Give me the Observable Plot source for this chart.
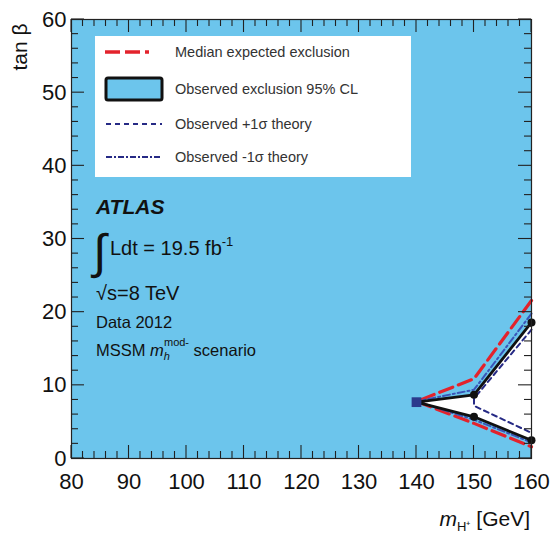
<!DOCTYPE html>
<html><head><meta charset="utf-8">
<script src="https://cdn.jsdelivr.net/npm/d3@7"></script>
<script src="https://cdn.jsdelivr.net/npm/@observablehq/plot@0.6"></script>
<style>
body{margin:0;background:#fff;}
#chart{width:555px;height:539px;}
svg{font-family:"Liberation Sans",Arial,sans-serif;}
</style>
</head><body><div id="chart"></div>
<script>
// ---- data ----
const mass = [140, 150, 160];
const obsUpper = [7.7, 8.7, 18.6];
const obsLower = [7.7, 5.7, 2.5];
const expUpper = [7.8, 10.9, 21.6];
const expLower = [7.8, 4.8, 1.6];
const minusUpper = [7.8, 9.4, 19.8];
const minusLower = [7.8, 5.3, 2.2];
const plusMass = [160, 150, 150, 160];
const plusVals = [17.6, 8.2, 7.2, 3.5];
const xMajor = [80, 90, 100, 110, 120, 130, 140, 150, 160];
const yMajor = [0, 10, 20, 30, 40, 50, 60];
const xMinor = d3.range(80, 161, 2);
const yMinor = d3.range(0, 61, 2);
const legendLabels = ["Median expected exclusion", "Observed exclusion 95% CL", "Observed +1\u03c3 theory", "Observed -1\u03c3 theory"];

const BLUE = "#6cc5ec";
const RED = "#e3232c";
const NAVY = "#262a85";

const contour = (up, lo) => [
  ...mass.map((m, i) => ({m, v: up[i]})).reverse(),
  ...mass.slice(1).map((m, i) => ({m, v: lo[i + 1]}))
];
const wedge = mass.map((m, i) => ({m, lo: obsLower[i], hi: obsUpper[i]}));
const obsLine = contour(obsUpper, obsLower);
const expLine = contour(expUpper, expLower);
const minusLine = contour(minusUpper, minusLower);
const plusLine = plusMass.map((m, i) => ({m, v: plusVals[i]}));
const obsDots = obsLine.filter(d => d.m !== 140);
const apex = obsLine.filter(d => d.m === 140);

const svg = Plot.plot({
  width: 555, height: 539,
  marginLeft: 71, marginRight: 24, marginTop: 19, marginBottom: 81,
  x: {domain: [80, 160]},
  y: {domain: [0, 60]},
  style: {fontFamily: '"Liberation Sans", Arial, sans-serif', color: "#111", background: "white"},
  marks: [
    Plot.frame({fill: BLUE, stroke: null}),
    Plot.areaY(wedge, {x: "m", y1: "lo", y2: "hi", fill: "white"}),
    Plot.line(expLine, {x: "m", y: "v", stroke: RED, strokeWidth: 3.2, strokeDasharray: "14,6"}),
    Plot.line(plusLine, {x: "m", y: "v", stroke: NAVY, strokeWidth: 2, strokeDasharray: "5,4"}),
    Plot.line(minusLine, {x: "m", y: "v", stroke: "#3a55b8", strokeWidth: 2, strokeDasharray: "7,3,2,3"}),
    Plot.line(obsLine, {x: "m", y: "v", stroke: "#111", strokeWidth: 2.8}),
    Plot.dot(obsDots, {x: "m", y: "v", r: 4, fill: "#111"}),
    Plot.dot(apex, {x: "m", y: "v", symbol: "square", r: 5.5, fill: "#2b3a8c"}),
    Plot.axisX({ticks: xMajor, tickSize: 0, tickPadding: 15, fontSize: 22, tickFormat: d => d, label: null}),
    Plot.axisY({ticks: yMajor, tickSize: 0, tickPadding: 5, fontSize: 22, tickFormat: d => d, label: null}),
    Plot.frame({stroke: "#222", strokeWidth: 1.2})
  ]
});
document.getElementById("chart").appendChild(svg);

const s = d3.select(svg);
const FONT = '"Liberation Sans", Arial, sans-serif';
const xs = svg.scale("x"), ys = svg.scale("y");
const X0 = xs.apply(80), X1 = xs.apply(160), Y0 = ys.apply(0), Y1 = ys.apply(60);

// inward tick marks on all four sides, placed through Plot's scales
const tk = s.append("g").attr("stroke", "#222").attr("stroke-width", 1.1);
xMinor.forEach(v => {
  const len = xMajor.includes(v) ? 13 : 7;
  const px = xs.apply(v);
  tk.append("line").attr("x1", px).attr("x2", px).attr("y1", Y0).attr("y2", Y0 - len);
  tk.append("line").attr("x1", px).attr("x2", px).attr("y1", Y1).attr("y2", Y1 + len);
});
yMinor.forEach(v => {
  const len = yMajor.includes(v) ? 13 : 7;
  const py = ys.apply(v);
  tk.append("line").attr("y1", py).attr("y2", py).attr("x1", X0).attr("x2", X0 + len);
  tk.append("line").attr("y1", py).attr("y2", py).attr("x1", X1).attr("x2", X1 - len);
});

// axis titles
s.append("text").attr("transform", "translate(27,47) rotate(-90)")
  .attr("text-anchor", "middle").attr("font-size", 21).attr("fill", "#111").attr("font-family", FONT)
  .text("tan \u03b2");

const xt = s.append("text").attr("x", 530).attr("y", 526).attr("text-anchor", "end")
  .attr("font-size", 21).attr("fill", "#111").attr("font-family", FONT);
xt.append("tspan").attr("font-style", "italic").text("m");
xt.append("tspan").attr("font-size", 13).attr("dy", 5).text("H\u207a");
xt.append("tspan").attr("dy", -5).text(" [GeV]");

// legend
const lg = s.append("g").attr("font-family", FONT).attr("text-anchor", "start");
lg.append("rect").attr("x", 95).attr("y", 36).attr("width", 316).attr("height", 141).attr("fill", "white");
const rowY = [52, 89, 124, 157];
lg.append("line").attr("x1", 105).attr("x2", 162).attr("y1", rowY[0]).attr("y2", rowY[0])
  .attr("stroke", RED).attr("stroke-width", 3.5).attr("stroke-dasharray", "15,5,15,5,4");
lg.append("rect").attr("x", 106).attr("y", rowY[1] - 11).attr("width", 56).attr("height", 22).attr("rx", 2)
  .attr("fill", BLUE).attr("stroke", "#111").attr("stroke-width", 3);
lg.append("line").attr("x1", 106).attr("x2", 162).attr("y1", rowY[2]).attr("y2", rowY[2])
  .attr("stroke", NAVY).attr("stroke-width", 2).attr("stroke-dasharray", "5,4");
lg.append("line").attr("x1", 106).attr("x2", 162).attr("y1", rowY[3]).attr("y2", rowY[3])
  .attr("stroke", NAVY).attr("stroke-width", 2.2).attr("stroke-dasharray", "6,2,2,2");
legendLabels.forEach((t, i) => {
  lg.append("text").attr("x", 175).attr("y", rowY[i] + 5).attr("font-size", 14.5).attr("fill", "#333").text(t);
});

// ATLAS annotation
const an = s.append("g").attr("font-family", FONT).attr("fill", "#111").attr("text-anchor", "start");
an.append("text").attr("x", 96).attr("y", 214).attr("font-size", 21).attr("font-weight", "bold").attr("font-style", "italic").text("ATLAS");
an.append("text").attr("x", 93).attr("y", 268).attr("font-size", 48).attr("font-family", '"DejaVu Sans", sans-serif').attr("font-weight", "300").text("\u222b");
const lum = an.append("text").attr("x", 110).attr("y", 255).attr("font-size", 20);
lum.append("tspan").text("Ldt = 19.5 fb");
lum.append("tspan").attr("font-size", 13).attr("dy", -9).text("-1");
an.append("text").attr("x", 96).attr("y", 300).attr("font-size", 20).text("\u221as=8 TeV");
an.append("text").attr("x", 96).attr("y", 328).attr("font-size", 16.5).text("Data 2012");
const ms = an.append("text").attr("x", 96).attr("y", 356).attr("font-size", 16.5);
ms.append("tspan").text("MSSM ");
ms.append("tspan").attr("font-style", "italic").text("m");
ms.append("tspan").attr("font-size", 11).attr("font-style", "italic").attr("dy", 4).text("h");
ms.append("tspan").attr("font-size", 11).attr("dx", -6).attr("dy", -14).text("mod-");
ms.append("tspan").attr("dy", 10).text(" scenario");
</script>
</body></html>
